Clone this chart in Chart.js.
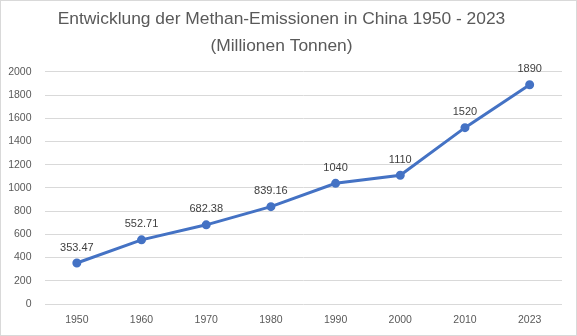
<!DOCTYPE html>
<html><head><meta charset="utf-8">
<script src="https://cdn.jsdelivr.net/npm/chart.js@4/dist/chart.umd.min.js"></script>
<style>
html,body{margin:0;padding:0;background:#fff;}
#wrap{position:relative;width:577px;height:336px;box-sizing:border-box;border:1px solid #d9d9d9;}
canvas{display:block;}
</style></head>
<body><div id="wrap"><canvas id="c" width="575" height="334"></canvas></div>
<script>
const categories = ["1950","1960","1970","1980","1990","2000","2010","2023"];
const emissions = [353.47, 552.71, 682.38, 839.16, 1040, 1110, 1520, 1890];
const pointLabels = ["353.47","552.71","682.38","839.16","1040","1110","1520","1890"];
const titleLines = ["Entwicklung der Methan-Emissionen in China 1950 - 2023", "(Millionen Tonnen)"];

const FONT = "'Liberation Sans', Arial, sans-serif";

const labelPlugin = {
  id: 'pointLabels',
  afterDatasetsDraw(chart) {
    const ctx = chart.ctx;
    const meta = chart.getDatasetMeta(0);
    ctx.save();
    ctx.font = "11px " + FONT;
    ctx.fillStyle = "#404040";
    ctx.textAlign = "center";
    ctx.textBaseline = "bottom";
    meta.data.forEach((pt, i) => {
      ctx.fillText(pointLabels[i], pt.x, pt.y - 10);
    });
    ctx.restore();
  }
};

new Chart(document.getElementById('c'), {
  type: 'line',
  data: {
    labels: categories,
    datasets: [{
      data: emissions,
      borderColor: '#4472C4',
      backgroundColor: '#4472C4',
      borderWidth: 3,
      pointRadius: 3,
      pointHoverRadius: 3,
      tension: 0
    }]
  },
  options: {
    responsive: false,
    animation: false,
    devicePixelRatio: 1,
    layout: { padding: { top: 0, right: 14, bottom: 1, left: 0 } },
    plugins: {
      legend: { display: false },
      tooltip: { enabled: false },
      title: {
        display: true,
        text: titleLines,
        color: '#595959',
        font: { family: FONT, size: 17.4, weight: 'normal', lineHeight: 1.55 },
        padding: { top: 5, bottom: 12 }
      }
    },
    scales: {
      x: {
        offset: true,
        grid: { display: false, drawTicks: false },
        border: { display: false },
        ticks: { color: '#595959', font: { family: FONT, size: 10.5 }, padding: 10, maxRotation: 0 },
        afterFit(s) { s.height = 30; }
      },
      y: {
        min: 0, max: 2000,
        ticks: { stepSize: 200, color: '#595959', font: { family: FONT, size: 10.5 }, padding: 13,
                 callback: (v) => String(v) },
        grid: { color: '#d9d9d9', lineWidth: 1, drawTicks: false },
        border: { display: false },
        afterFit(s) { s.width = 43.5; }
      }
    }
  },
  plugins: [labelPlugin]
});
</script></body></html>
